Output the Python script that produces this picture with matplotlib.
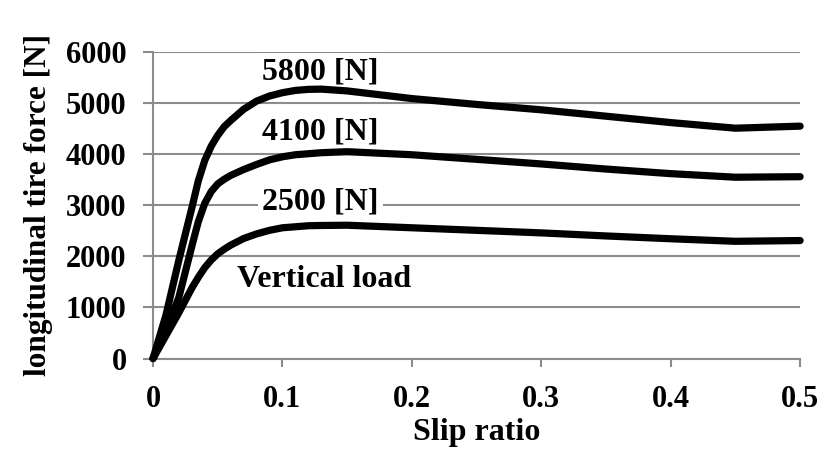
import matplotlib
matplotlib.use("Agg")
import matplotlib.pyplot as plt

slip = [0, 0.01, 0.02, 0.03, 0.035, 0.04, 0.045, 0.05, 0.055, 0.06, 0.07,
        0.08, 0.09, 0.10, 0.11, 0.12, 0.13, 0.15, 0.20, 0.25, 0.30, 0.35,
        0.40, 0.45, 0.50]
force_5800 = [0, 850, 1930, 2950, 3480, 3880, 4160, 4370, 4540, 4660, 4880,
              5040, 5140, 5205, 5250, 5270, 5275, 5240, 5090, 4975, 4870, 4745,
              4620, 4510, 4550]
force_4100 = [0, 550, 1200, 2200, 2680, 3040, 3270, 3420, 3510, 3585, 3700,
              3800, 3890, 3950, 3990, 4010, 4030, 4050, 3990, 3900, 3810, 3710,
              3620, 3550, 3560]
force_2500 = [0, 450, 900, 1380, 1590, 1780, 1930, 2050, 2140, 2220, 2350,
              2440, 2510, 2560, 2580, 2600, 2605, 2610, 2560, 2510, 2460, 2400,
              2345, 2295, 2310]

load_labels = ["5800 [N]", "4100 [N]", "2500 [N]"]
label_pos = [(0.0845, 5620), (0.0845, 4430), (0.0845, 3060)]

plt.rcParams['font.family'] = ['Liberation Serif', 'DejaVu Serif']
plt.rcParams['font.weight'] = 'bold'
fs = 23
tick_fs = 22

fig = plt.figure(figsize=(8.24, 4.57), dpi=100)
ax = fig.add_axes([0.1857, 0.2155, 0.7853, 0.6705])

grey = '#8c8c8c'
ax.yaxis.grid(True, color=grey, linewidth=1.5)
ax.set_axisbelow(True)

for f in (force_5800, force_4100, force_2500):
    ax.plot(slip, f, color='black', linewidth=5.2, solid_capstyle='round',
            solid_joinstyle='round', clip_on=False, zorder=3)

for txt, (x, y) in zip(load_labels, label_pos):
    ax.text(x, y, txt, fontsize=fs, fontweight='bold', ha='left', va='center',
            zorder=2, bbox=dict(facecolor='white', edgecolor='none', pad=3))
ax.text(0.065, 1540, "Vertical load", fontsize=fs, fontweight='bold',
        ha='left', va='center', zorder=2)

ax.set_xlim(0, 0.5)
ax.set_ylim(0, 6000)
ax.set_xticks([0, 0.1, 0.2, 0.3, 0.4, 0.5])
ax.set_xticklabels(["0", "0.1", "0.2", "0.3", "0.4", "0.5"])
ax.set_yticks(range(0, 7000, 1000))

for s in ('top', 'right'):
    ax.spines[s].set_visible(False)
for s in ('left', 'bottom'):
    ax.spines[s].set_color(grey)
    ax.spines[s].set_linewidth(1.5)
ax.tick_params(axis='both', colors=grey, width=1.5, labelsize=tick_fs,
               labelcolor='black')
ax.tick_params(axis='x', length=6, pad=13)
ax.tick_params(axis='y', length=7, pad=12)

ax.set_xlabel("Slip ratio", fontsize=fs, fontweight='bold', labelpad=3)
ax.set_ylabel("longitudinal tire force [N]", fontsize=22.5, fontweight='bold',
              labelpad=9)

fig.savefig("out.png", dpi=100)
